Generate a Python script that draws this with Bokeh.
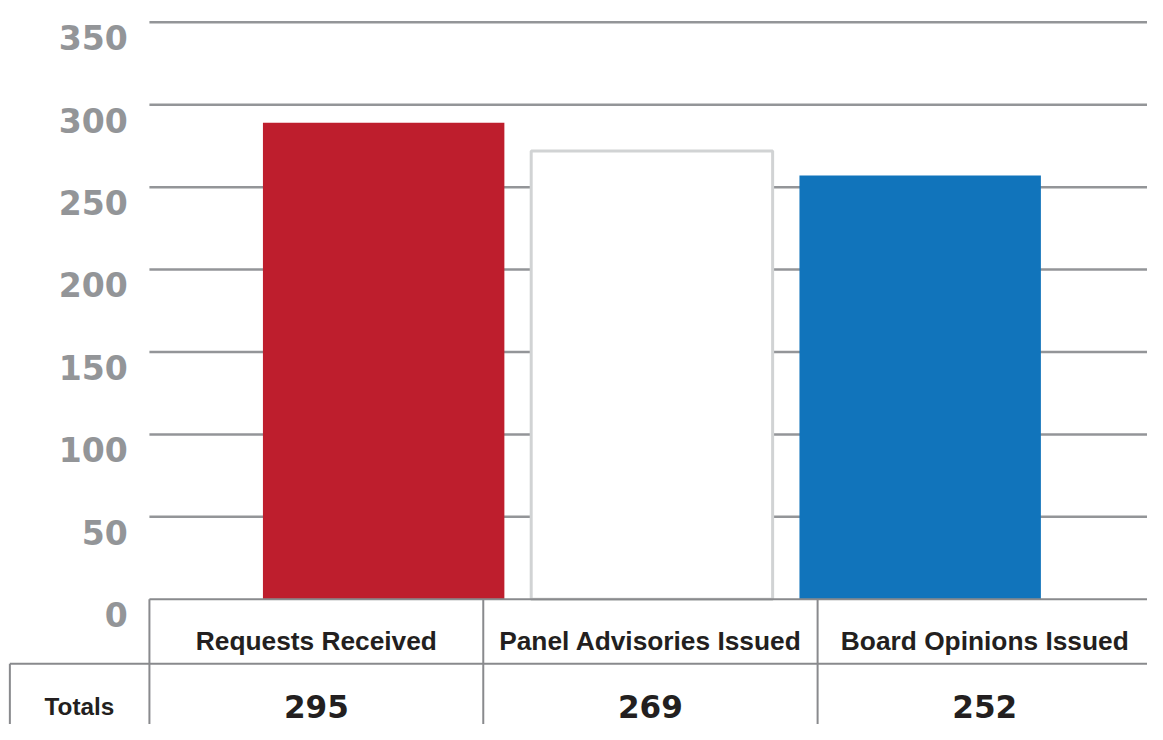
from bokeh.plotting import figure
from bokeh.models import ColumnDataSource, Range1d
from bokeh.core.properties import value
from bokeh.embed import file_html
from bokeh.resources import INLINE

# ---- data ----
categories = ["Requests Received", "Panel Advisories Issued", "Board Opinions Issued"]
bar_values = [289, 272, 257]          # bar heights as drawn
totals = [295, 269, 252]              # totals row of the table
y_ticks = [0, 50, 100, 150, 200, 250, 300, 350]
row_label = "Totals"
bar_fill = ["#be1e2d", "#ffffff", "#1174bb"]
bar_line = ["#be1e2d", "#d1d3d4", "#1174bb"]
bar_line_alpha = [0.0, 1.0, 0.0]

# ---- layout helpers (reference pixel -> data coordinates) ----
W, H = 1147, 724
REF_W, REF_H = 1163, 744
SC = min(W / REF_W, H / REF_H)   # font scale
Y0, YS = 615.3, 1.694     # pixel of value 0, pixels per unit
X0, XS = 388.5, 272.0     # pixel of first category centre, pixels per category


def dx(px):
    return (px - X0) / XS


def dy(px):
    return (Y0 - px) / YS


def fs(px):
    return f"{px * SC:.1f}px"


p = figure(width=W, height=H, output_backend="svg", toolbar_location=None,
           x_range=Range1d(dx(0), dx(REF_W)),
           y_range=Range1d(dy(REF_H), dy(0)),
           x_axis_location=None, y_axis_location=None,
           min_border=0, tools="")
p.xgrid.visible = False
p.ygrid.visible = False
p.outline_line_color = None
p.background_fill_color = "#ffffff"
p.border_fill_color = "#ffffff"

# gridlines
grid_ticks = [t for t in y_ticks if t > 0]
n = len(grid_ticks)
p.segment(x0=[dx(151)] * n, y0=grid_ticks, x1=[dx(1175)] * n, y1=grid_ticks,
          line_color="#939598", line_width=2.5)

# y tick labels
tick_src = ColumnDataSource(dict(x=[dx(129)] * len(y_ticks),
                                 y=[t - 15.8 / YS for t in y_ticks],
                                 t=[str(t) for t in y_ticks]))
p.text(x="x", y="y", text="t", source=tick_src, text_font=value("DejaVu Sans"),
       text_font_style="bold", text_font_size=fs(34), text_color="#939598",
       text_align="right", text_baseline="alphabetic")

# bars
bar_src = ColumnDataSource(dict(x=list(range(len(categories))), top=bar_values,
                                fill=bar_fill, line=bar_line, la=bar_line_alpha))
p.vbar(x="x", top="top", bottom=0, width=0.9, source=bar_src,
       fill_color="fill", line_color="line", line_alpha="la", line_width=3)

# table
cells = [151, 489.5, 828.5, 1167.5]
row_sep = 681.7
tcol = "#898a8d"
p.segment(x0=[dx(151), dx(9.5)], y0=[0, dy(row_sep)],
          x1=[dx(1175), dx(1175)], y1=[0, dy(row_sep)],
          line_color=tcol, line_width=2)
vx = [dx(c) for c in cells[:3]]
p.segment(x0=vx, y0=[0] * 3, x1=vx, y1=[dy(760)] * 3, line_color=tcol, line_width=2)
p.segment(x0=[dx(9.5)], y0=[dy(row_sep)], x1=[dx(9.5)], y1=[dy(760)],
          line_color=tcol, line_width=2)

centers = [dx((cells[i] + cells[i + 1]) / 2) for i in range(3)]
head_src = ColumnDataSource(dict(x=centers, y=[dy(658)] * 3, t=categories))
p.text(x="x", y="y", text="t", source=head_src, text_font=value("Liberation Sans"),
       text_font_style="bold", text_font_size=fs(27), text_color="#231f20",
       text_align="center", text_baseline="alphabetic")

tot_src = ColumnDataSource(dict(x=centers, y=[dy(725)] * 3, t=[str(v) for v in totals]))
p.text(x="x", y="y", text="t", source=tot_src, text_font=value("DejaVu Sans"),
       text_font_style="bold", text_font_size=fs(32), text_color="#231f20",
       text_align="center", text_baseline="alphabetic")

p.text(x=[dx(80)], y=[dy(725)], text=[row_label], text_font=value("Liberation Sans"),
       text_font_style="bold", text_font_size=fs(25), text_color="#231f20",
       text_align="center", text_baseline="alphabetic")

open("out.html", "w").write(file_html(p, INLINE))
